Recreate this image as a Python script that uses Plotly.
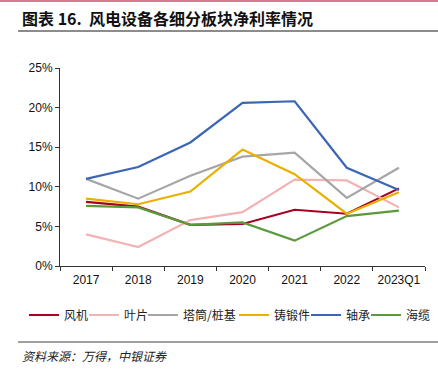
import plotly.graph_objects as go

categories = ["2017", "2018", "2019", "2020", "2021", "2022", "2023Q1"]
fengji = [8.1, 7.5, 5.2, 5.3, 7.1, 6.6, 9.8]
yepian = [4.0, 2.4, 5.8, 6.8, 10.9, 10.8, 7.4]
tatong = [11.0, 8.5, 11.4, 13.8, 14.3, 8.6, 12.4]
duanduan = [8.5, 7.8, 9.4, 14.7, 11.6, 6.6, 9.3]
zhoucheng = [11.0, 12.5, 15.6, 20.6, 20.8, 12.4, 9.6]
hailan = [7.6, 7.4, 5.2, 5.5, 3.2, 6.3, 7.0]
y_ticks = [0, 5, 10, 15, 20, 25]
y_labels = ["0%", "5%", "10%", "15%", "20%", "25%"]

series = [
    ("风机", fengji, "#A8001E"),
    ("叶片", yepian, "#F2B3B5"),
    ("塔筒/桩基", tatong, "#A6A6A6"),
    ("铸锻件", duanduan, "#E8B000"),
    ("轴承", zhoucheng, "#3B66B6"),
    ("海缆", hailan, "#5B9A3C"),
]
# left edge (px) of each legend entry's line
legend_x = [30, 90, 149, 240, 312, 372]

W, H = 438, 382
L, R, T, B = 60, 425, 68, 266
LEG_OFF = 6


def px(x):
    return (x - L) / (R - L)


def py(y):
    return (B - y) / (B - T)


cjk = "Noto Sans CJK SC"
fig = go.Figure()
legends = {}
for i, (name, vals, color) in enumerate(series):
    key = "legend" if i == 0 else f"legend{i + 1}"
    fig.add_trace(go.Scatter(x=categories, y=vals, name=name, mode="lines",
                             legend=key, line=dict(color=color, width=2.2)))
    legends[key] = dict(orientation="h", xref="container", yref="container",
                        x=(legend_x[i] - LEG_OFF) / W, xanchor="left",
                        y=1 - 315 / H, yanchor="middle",
                        font=dict(family=cjk, size=12, color="#222"),
                        itemwidth=30, bgcolor="rgba(0,0,0,0)", borderwidth=0)

fig.update_layout(
    width=W, height=H,
    margin=dict(l=L, r=W - R, t=T, b=H - B, autoexpand=False),
    paper_bgcolor="white", plot_bgcolor="white",
    showlegend=True,
    xaxis=dict(type="category", showline=True, linecolor="#333", linewidth=1,
               ticks="outside", ticklen=4, tickcolor="#333", tickson="boundaries",
               showgrid=False, range=[-0.5, 6.5], ticklabelstandoff=3,
               tickfont=dict(family="Liberation Sans, Arial", size=12, color="#111")),
    yaxis=dict(range=[0, 25], tickvals=y_ticks, ticktext=y_labels,
               showline=True, linecolor="#333", linewidth=1,
               ticks="outside", ticklen=4, tickcolor="#333",
               showgrid=False, zeroline=False,
               tickfont=dict(family="Liberation Sans, Arial", size=12, color="#111")),
    annotations=[
        dict(text="<b>图表 16.  风电设备各细分板块净利率情况</b>", xref="paper", yref="paper",
             x=px(20), y=py(18), xanchor="left", yanchor="middle", showarrow=False,
             font=dict(family=cjk, size=16, color="#111")),
        dict(text="<i>资料来源：万得，中银证券</i>", xref="paper", yref="paper",
             x=px(20), y=py(355), xanchor="left", yanchor="middle", showarrow=False,
             font=dict(family=cjk, size=12, color="#222")),
    ],
    shapes=[
        dict(type="line", xref="paper", yref="paper", x0=px(0), x1=px(438),
             y0=py(1), y1=py(1), line=dict(color="#D9788F", width=2)),
        dict(type="line", xref="paper", yref="paper", x0=px(18), x1=px(438),
             y0=py(31), y1=py(31), line=dict(color="#8C8C8C", width=2)),
        dict(type="line", xref="paper", yref="paper", x0=px(18), x1=px(438),
             y0=py(342), y1=py(342), line=dict(color="#404040", width=1)),
    ],
)
fig.update_layout(**legends)

fig.write_html("out.html", config={"displayModeBar": False},
               post_script="document.body.style.margin='0';document.body.style.padding='0';")
